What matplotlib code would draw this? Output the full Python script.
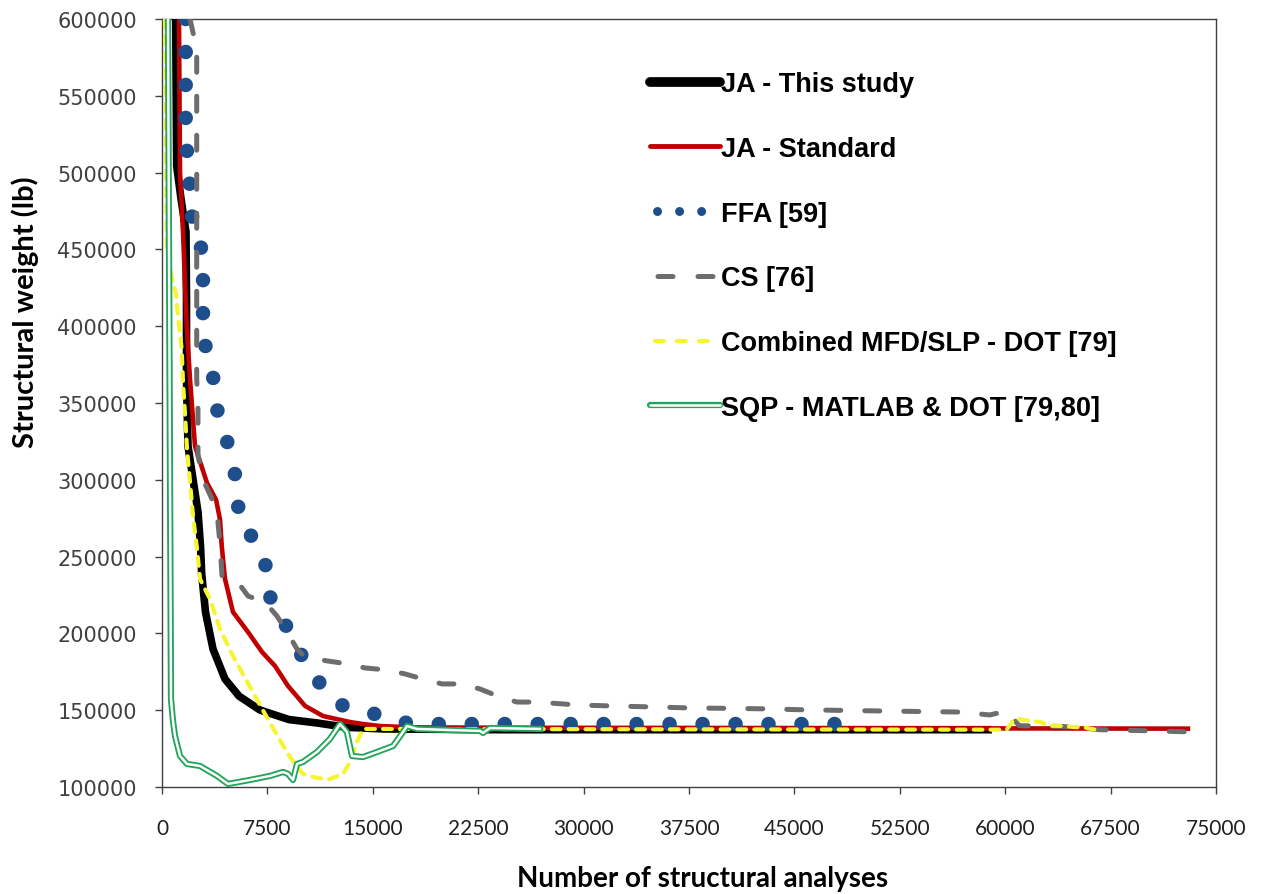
import numpy as np
import matplotlib
matplotlib.use('Agg')
import matplotlib.pyplot as plt
from matplotlib.lines import Line2D

# JA - This study
ja_this_x = [975, 1046, 1352, 1708, 1743, 1743, 1850, 2206, 2562, 2740, 2825, 3095, 3629,
             4483, 5479, 6973, 9036, 11030, 13090, 15730, 24050, 58780]
ja_this_y = [600000, 504300, 483000, 461300, 417700, 365600, 322000, 300500, 279000, 256900,
             238700, 213900, 189800, 170300, 159200, 150100, 143900, 141700, 138900, 137800,
             137300, 137300]

# JA - Standard
ja_std_x = [1210, 1281, 1494, 1758, 1992, 2348, 3200, 3850, 4130, 4250, 4483, 5052, 6120,
            7116, 8040, 8966, 10180, 11460, 13380, 14300, 15510, 18360, 73000]
ja_std_y = [600000, 500400, 461300, 400100, 365600, 322000, 298000, 287000, 274000, 257000,
            235400, 213900, 200900, 187900, 178800, 165800, 152800, 146200, 142300, 141000,
            139700, 138600, 138000]

# FFA [59]
ffa_x = [1687, 1687, 1850, 2064, 2206, 2918, 2918, 3131, 3629, 3843, 4412, 4981, 5337, 5480,
         6618, 7543, 7757, 9037, 9870, 11100, 12630, 14920, 16870, 19200, 48000]
ffa_y = [600000, 525100, 504500, 483000, 461500, 448500, 404700, 383200, 367600, 348000,
         331800, 314200, 296000, 273800, 260200, 240600, 219100, 202200, 186600, 169000,
         153700, 148200, 142100, 141000, 141000]

# CS [76]
cs_x = [1990, 2470, 2470, 2560, 2560, 3060, 3890, 4130, 4270, 5340, 6120, 7330, 8180, 8900,
        9610, 10180, 11810, 13240, 14450, 16010, 17290, 18570, 19930, 21350, 22630, 24050,
        25260, 26690, 29530, 32240, 35080, 37790, 40630, 43410, 45400, 51100, 56800, 58900,
        60100, 61000, 64100, 66700, 70700, 73500]
cs_y = [600000, 580500, 365600, 346100, 315500, 297300, 281000, 258200, 237400, 234100,
        224300, 220400, 211300, 200900, 189800, 184600, 182000, 180100, 177500, 176200,
        173600, 170300, 167100, 167100, 163800, 158600, 155300, 155300, 153400, 152700,
        152100, 151400, 151200, 150800, 150300, 149500, 148800, 146900, 149500, 139900,
        139400, 137300, 136500, 135800]

# Combined MFD/SLP - DOT [79]
comb_x = [213, 356, 712, 996, 1139, 1402, 1494, 1637, 1779, 1992, 2206, 2491, 2704, 3416,
          4127, 5052, 6262, 7330, 8255, 9109, 10030, 11030, 11950, 12880, 13380, 13880, 14300,
          60100, 60600, 60900, 61800, 62500, 63200, 64100, 64800, 65700, 66500]
comb_y = [600000, 450300, 430700, 421000, 406600, 385100, 363700, 342800, 320100, 298600,
          276400, 255000, 235400, 222400, 202900, 185300, 165100, 147500, 132600, 119500,
          108500, 105900, 105200, 108500, 116300, 129300, 137800, 137300, 143600, 144300,
          143000, 142300, 139900, 139700, 139100, 138700, 137100]

# SQP - MATLAB & DOT [79,80]
sqp_x = [427, 640, 783, 925, 1281, 1779, 2704, 3914, 4697, 6262, 7686, 8610, 8966, 9322, 9607,
         10030, 11030, 11950, 12670, 13160, 13520, 14300, 15300, 16440, 17150, 17430, 18150,
         20500, 22630, 22840, 23340, 26900]
sqp_y = [600000, 157300, 143000, 133200, 120200, 115000, 113700, 107200, 102000, 104600,
         107200, 109800, 108500, 104600, 115000, 116300, 122800, 131300, 141000, 135800,
         120200, 119500, 122800, 126700, 135800, 139700, 137800, 137100, 136500, 135200,
         138400, 137800]

labels = ['JA - This study', 'JA - Standard', 'FFA [59]', 'CS [76]',
          'Combined MFD/SLP - DOT [79]', 'SQP - MATLAB & DOT [79,80]']

x_ticks = [0, 7500, 15000, 22500, 30000, 37500, 45000, 52500, 60000, 67500, 75000]
y_ticks = [100000, 150000, 200000, 250000, 300000, 350000, 400000, 450000, 500000, 550000, 600000]

c_black = 'black'
c_red = '#c00000'
c_blue = '#1f4e8c'
c_gray = '#6d6d6d'
c_yellow = '#f5f532'
c_green = '#22a55b'

fig = plt.figure(figsize=(12.66, 8.95), dpi=100)
ax = fig.add_axes([162 / 1266, 1 - 788 / 895, (1216 - 162) / 1266, (788 - 20) / 895])

ax.plot(ja_this_x, ja_this_y, color=c_black, lw=5.5, solid_joinstyle='round', zorder=3)
ax.plot(ja_std_x, ja_std_y, color=c_red, lw=3.3, solid_joinstyle='round', zorder=4)
ax.plot(ffa_x, ffa_y, color=c_blue, lw=10.5, linestyle=(0, (0.001, 2.26)),
        dash_capstyle='round', zorder=5)
ax.plot(cs_x, cs_y, color=c_gray, lw=3.6, linestyle=(0, (3, 4.8)),
        dash_capstyle='round', zorder=6)
ax.plot(comb_x, comb_y, color=c_yellow, lw=3, linestyle=(0, (2.1, 1.95)),
        dash_capstyle='round', zorder=7)
ax.plot(sqp_x, sqp_y, color=c_green, lw=4.5, zorder=8)
ax.plot(sqp_x, sqp_y, color='white', lw=1.8, zorder=9)

ax.set_xlim(0, 75000)
ax.set_ylim(100000, 600000)
ax.set_xticks(x_ticks, labels=[str(v) for v in x_ticks])
ax.set_yticks(y_ticks, labels=[str(v) for v in y_ticks])

for s in ax.spines.values():
    s.set_color('#404040')
    s.set_linewidth(1.0)
ax.tick_params(direction='out', length=5, width=1, color='#404040')
ax.tick_params(axis='x', pad=17, labelsize=15, labelcolor='#202020')
ax.tick_params(axis='y', pad=13, labelsize=15, labelcolor='#404040')
for t in ax.get_xticklabels():
    t.set_family('Lato')
for t in ax.get_yticklabels():
    t.set_family('DejaVu Sans')

fig.text(703 / 1266, 1 - 879 / 895, 'Number of structural analyses', ha='center', va='center',
         family='Lato', weight='bold', size=20)
fig.text(25 / 1266, 1 - 312 / 895, 'Structural weight (lb)', ha='center', va='center',
         rotation=90, family='Lato', weight='bold', size=21)

handles = [
    Line2D([], [], color=c_black, lw=7, solid_capstyle='round'),
    Line2D([], [], color=c_red, lw=3.5, solid_capstyle='round'),
    Line2D([], [], color=c_blue, lw=6.5, linestyle=(1.66, (0.001, 2.44)), dash_capstyle='round'),
    Line2D([], [], color=c_gray, lw=3.6, linestyle=(6.5, (3, 5)), dash_capstyle='round'),
    Line2D([], [], color=c_yellow, lw=3, linestyle=(4.07, (2.1, 3.17)), dash_capstyle='round'),
    (Line2D([], [], color=c_green, lw=4.5, solid_capstyle='round'),
     Line2D([], [], color='white', lw=1.8, solid_capstyle='round')),
]
ax.legend(handles, labels, loc='upper left', bbox_to_anchor=(0.463, 0.932), frameon=False,
          handlelength=2.58, handletextpad=0.05, labelspacing=1.43, borderpad=0,
          borderaxespad=0, prop={'family': 'Liberation Sans', 'weight': 'bold', 'size': 19.5})

fig.savefig('out.png', dpi=100)
